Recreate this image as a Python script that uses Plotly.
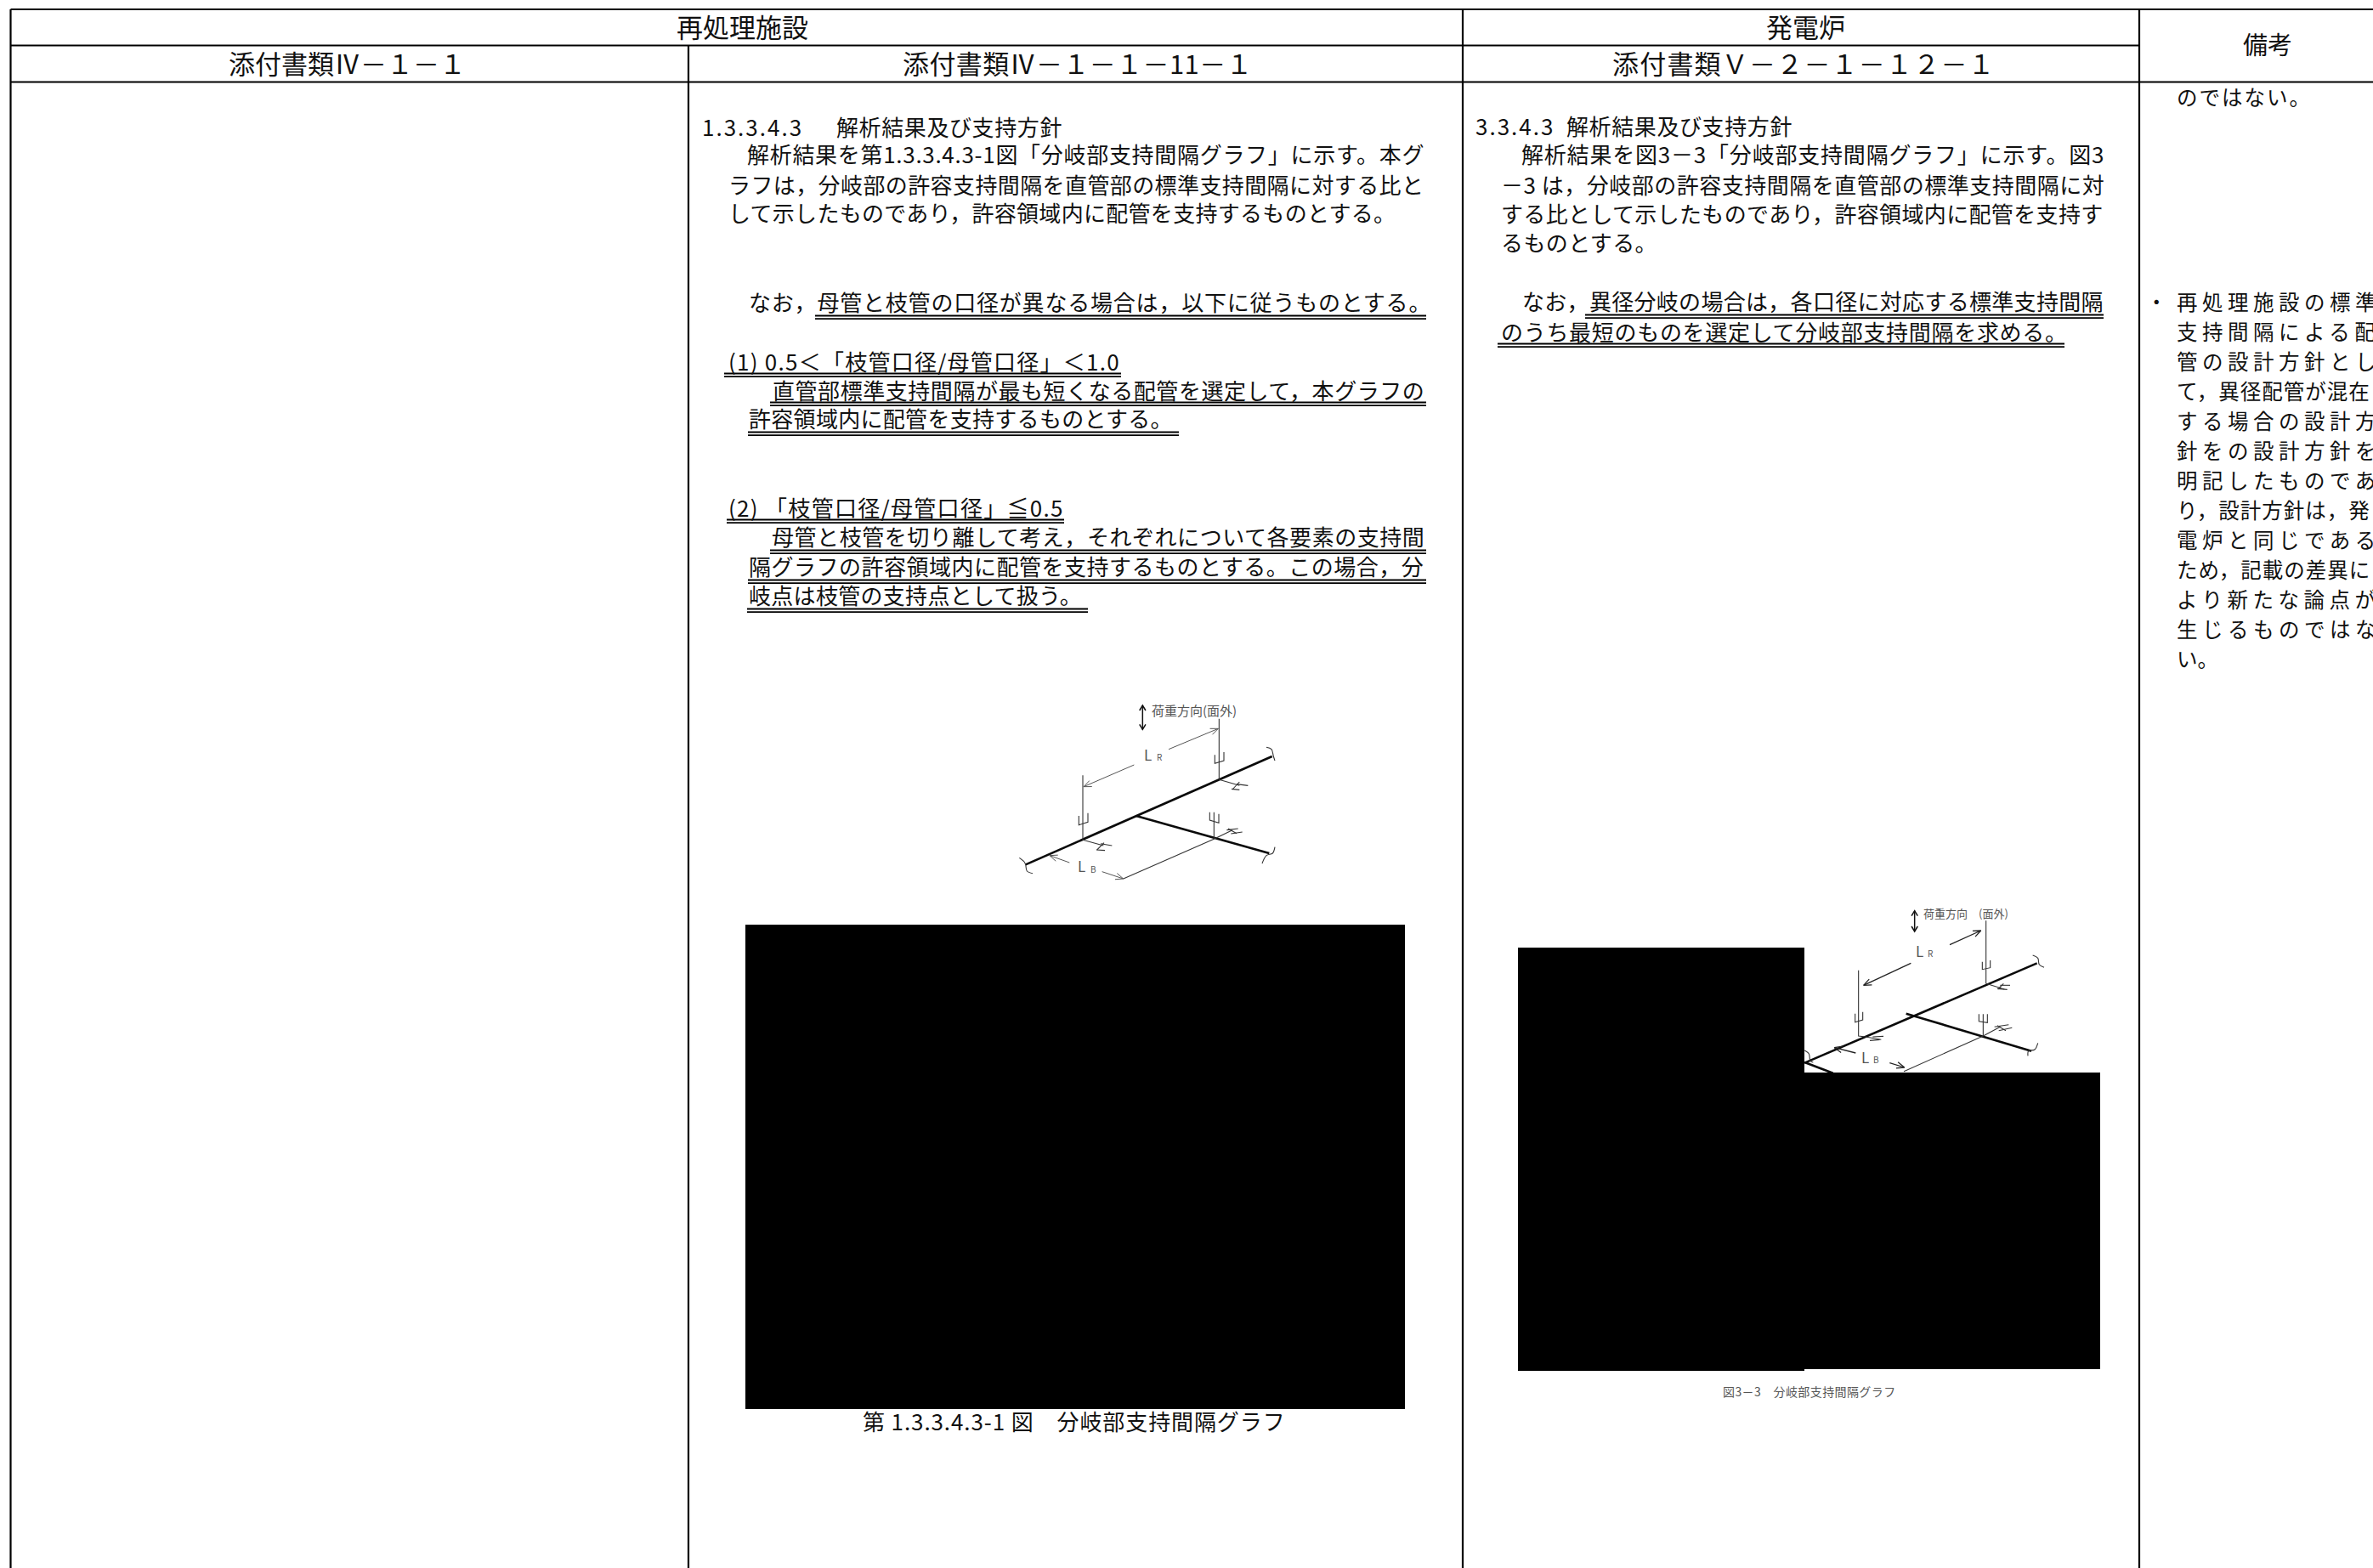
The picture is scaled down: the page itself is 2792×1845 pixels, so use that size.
import plotly.graph_objects as go

W, H = 2792, 1845
FONT = "Noto Sans CJK JP"
FC = "\uff0c"   # full-width comma
FM = "\uff0d"   # full-width minus
F1 = "\uff11"
F2 = "\uff12"
FV = "\uff36"
R4 = "\u2163"
IS = "\u3000"   # ideographic space
LT = "\uff1c"

# ---------- text content ----------
HEAD_TEXT = ["再処理施設", "発電炉",
             f"添付書類{R4}{FM}{F1}{FM}{F1}",
             f"添付書類{R4}{FM}{F1}{FM}{F1}{FM}11{FM}{F1}",
             f"添付書類{FV}{FM}{F2}{FM}{F1}{FM}{F1}{F2}{FM}{F1}", "備考"]
HEAD_X = [873, 2124, 408, 1268, 2122, 2668]
HEAD_Y = [30, 30, 73, 73, 73, 51]
HEAD_SIZE = [31, 31, 31, 31, 31, 29]
HEAD_SPACING = [0, 0, 0, 0.4, 1.2, 0]

COL2_TEXT = [
    "1.3.3.4.3", "解析結果及び支持方針",
    "解析結果を第1.3.3.4.3-1図「分岐部支持間隔グラフ」に示す。本グ",
    f"ラフは{FC}分岐部の許容支持間隔を直管部の標準支持間隔に対する比と",
    f"して示したものであり{FC}許容領域内に配管を支持するものとする。",
    f"なお{FC}母管と枝管の口径が異なる場合は{FC}以下に従うものとする。",
    f"(1) 0.5{LT}「枝管口径/母管口径」{LT}1.0",
    f"直管部標準支持間隔が最も短くなる配管を選定して{FC}本グラフの",
    "許容領域内に配管を支持するものとする。",
    "(2) 「枝管口径/母管口径」≦0.5",
    f"母管と枝管を切り離して考え{FC}それぞれについて各要素の支持間",
    f"隔グラフの許容領域内に配管を支持するものとする。この場合{FC}分",
    "岐点は枝管の支持点として扱う。",
]
COL2_X = [825, 983, 878, 856, 856, 880, 856, 908, 880, 856, 907, 880, 880]
COL2_Y = [148, 148, 180, 216, 249, 354, 424, 458, 491, 596, 630, 665, 699]
COL2_SPACING = [2, 0.6, 0.7, 0.4, 0.3, 0.8, 1.25, 0.55, 0.3, 1.3, 0.55, 0.5, 0.3]

COL3_TEXT = [
    "3.3.4.3", "解析結果及び支持方針",
    f"解析結果を図3{FM}3「分岐部支持間隔グラフ」に示す。図3",
    f"{FM}3 は{FC}分岐部の許容支持間隔を直管部の標準支持間隔に対",
    f"する比として示したものであり{FC}許容領域内に配管を支持す",
    "るものとする。",
    f"なお{FC}異径分岐の場合は{FC}各口径に対応する標準支持間隔",
    "のうち最短のものを選定して分岐部支持間隔を求める。",
]
COL3_X = [1735, 1842, 1789, 1765, 1765, 1765, 1790, 1765]
COL3_Y = [147, 147, 180, 216, 250, 284, 353, 389]
COL3_SPACING = [2, 0.6, 0.8, 0.5, 0.35, 0.4, 0.3, 0.7]

COL4_TEXT = [
    "のではない。", "再処理施設の標準", "支持間隔による配", "管の設計方針とし",
    f"て{FC}異径配管が混在", "する場合の設計方", "針をの設計方針を", "明記したものであ",
    f"り{FC}設計方針は{FC}発", "電炉と同じである", f"ため{FC}記載の差異に", "より新たな論点が",
    "生じるものではな", "い。",
]
COL4_Y = [113, 354, 389, 424, 459, 494, 529, 564, 599, 634, 669, 704, 739, 774]
COL4_SPACING = [2, 5.5, 5.5, 5.5, 1, 5.5, 5.5, 5.5, 1, 5.5, 1, 5.5, 5.5, 0]

CAPTION_TEXT = [f"第 1.3.3.4.3-1 図{IS}分岐部支持間隔グラフ", f"図3{FM}3{IS}分岐部支持間隔グラフ"]
CAPTION_X = [1264, 2129]
CAPTION_Y = [1671, 1637]
CAPTION_SIZE = [26, 14]
CAPTION_SPACING = [0.9, 0.4]

# ---------- table rules: (x0, y0, x1, y1) ----------
RULES = [
    (12.5, 11, W, 11), (12.5, 53.5, 2517, 53.5), (12.5, 96.5, W, 96.5),
    (12.5, 11, 12.5, H), (810, 53.5, 810, H), (1721, 11, 1721, H), (2517, 11, 2517, H),
]

# double underlines: (x0, x1, y)
UNDERLINES = [
    (959, 1678, 372), (852, 1319, 440), (906, 1678, 474), (880, 1387, 509),
    (855, 1252, 612), (906, 1678, 648), (880, 1678, 683), (879, 1280, 717),
    (1865, 2475, 371), (1762, 2429, 405),
]

# redacted blocks: (x0, y0, x1, y1)
BLOCKS = [(877, 1088, 1653, 1658), (1786, 1115, 2123, 1613), (2123, 1262, 2471, 1611)]

# ---------- pipe sketches, in zoomed local units (divide by 3, add origin) ----------
D1_ORIGIN = (1150, 780)
D1_THICK = [[(170, 712), (1040, 330)], [(560, 540), (1030, 672)]]
D1_THIN = [
    [(853, 197), (853, 412)], [(372, 397), (372, 625)], [(835, 527), (835, 622)],
    [(838, 325), (838, 355), (870, 345), (870, 315)],
    [(358, 540), (358, 572), (390, 562), (390, 530)],
    [(820, 527), (820, 555), (852, 565), (852, 533)],
    [(853, 412), (925, 433)], [(897, 445), (925, 448)], [(915, 428), (955, 433)], [(925, 420), (900, 447)],
    [(372, 625), (445, 645)], [(420, 660), (450, 662)], [(435, 638), (475, 645)], [(447, 635), (422, 660)],
    [(835, 622), (900, 590)], [(880, 590), (920, 585)], [(895, 603), (935, 597)], [(885, 585), (915, 602)],
    [(515, 762), (835, 622)],
]
D1_CURLS = [
    [(148, 688), (165, 702), (170, 712), (175, 735), (195, 743)],
    [(1020, 298), (1038, 305), (1045, 330), (1050, 345)],
    [(1050, 650), (1042, 672), (1020, 680), (1005, 708)],
]
D1_ARROWS = [
    [(675, 305), (850, 232)], [(553, 360), (375, 437)],
    [(325, 705), (255, 680)], [(440, 737), (515, 762)],
]
D1_DOUBLE = [(583, 150), (583, 235)]
D1_LABEL_TEXT = ["荷重方向(面外)", "L", "R", "L", "B"]
D1_LABEL_XY = [(612, 165), (585, 322), (630, 332), (352, 716), (397, 727)]
D1_LABEL_SIZE = [15, 17, 10, 17, 10]

D2_ORIGIN = (2120, 1040)
D2_THICK = [[(10, 632), (830, 280)], [(368, 458), (810, 590)], [(10, 630), (110, 668)]]
D2_THIN = [
    [(650, 130), (650, 352)], [(200, 305), (200, 537), (225, 540)], [(640, 460), (640, 537)],
    [(637, 275), (637, 302), (665, 296), (665, 270)],
    [(188, 458), (188, 488), (215, 480), (215, 452)],
    [(625, 460), (625, 485), (655, 490), (655, 460)],
    [(650, 352), (715, 372)], [(690, 370), (725, 373)], [(700, 358), (735, 358)], [(712, 352), (692, 372)],
    [(225, 540), (280, 550)], [(240, 553), (275, 550)], [(250, 540), (288, 538)],
    [(640, 537), (700, 505)], [(680, 505), (730, 497)], [(695, 518), (742, 508)], [(690, 500), (720, 518)],
    [(360, 662), (640, 537)],
]
D2_CURLS = [
    [(815, 252), (833, 262), (838, 285), (855, 295)],
    [(833, 562), (822, 585), (800, 590), (798, 607)],
    [(10, 588), (25, 600), (30, 625), (40, 630)],
]
D2_ARROWS = [
    [(522, 215), (632, 165)], [(385, 280), (218, 358)],
    [(190, 597), (115, 578)], [(310, 632), (362, 648)],
]
D2_DOUBLE = [(398, 95), (398, 168)]
D2_LABEL_TEXT = [f"荷重方向{IS}(面外)", "L", "R", "L", "B"]
D2_LABEL_XY = [(425, 102), (400, 234), (440, 244), (207, 611), (248, 619)]
D2_LABEL_SIZE = [13, 17, 10, 17, 10]

# ---------- helpers ----------
fig = go.Figure()


def segs(polys, width, color, shape="linear"):
    xs, ys = [], []
    for poly in polys:
        xs += [p[0] for p in poly] + [None]
        ys += [p[1] for p in poly] + [None]
    fig.add_trace(go.Scatter(x=xs, y=ys, mode="lines", hoverinfo="skip", showlegend=False,
                             line=dict(color=color, width=width, shape=shape,
                                       **({"smoothing": 1.0} if shape == "spline" else {}))))


def label(text, x, y, size, anchor="left", spacing=0, color="#111111"):
    t = f'<span style="letter-spacing:{spacing}px">{text}</span>' if spacing else text
    fig.add_annotation(x=x, y=y, text=t, showarrow=False, xanchor=anchor, yanchor="middle",
                       xref="x", yref="y", align=anchor, borderpad=0,
                       font=dict(family=FONT, size=size, color=color))


def to_page(poly, origin):
    return [(origin[0] + p[0] / 3, origin[1] + p[1] / 3) for p in poly]


def barbs(tail, tip, length=9.0, spread=0.42):
    dx, dy = tail[0] - tip[0], tail[1] - tip[1]
    n = (dx * dx + dy * dy) ** 0.5
    ux, uy = dx / n, dy / n
    a = (tip[0] + length * (ux - spread * uy), tip[1] + length * (uy + spread * ux))
    b = (tip[0] + length * (ux + spread * uy), tip[1] + length * (uy - spread * ux))
    return [a, tip, b]


def sketch(origin, thick, thin, curls, arrows, double, texts, xy, sizes, arrow_color, arrow_w):
    segs([to_page(p, origin) for p in thick], 2.6, "#0a0a0a")
    segs([to_page(p, origin) for p in thin], 1.1, "#333333")
    for c in curls:
        segs([to_page(c, origin)], 1.1, "#333333", shape="spline")
    ar = []
    for a in arrows:
        pa = to_page(a, origin)
        ar += [pa, barbs(pa[0], pa[1])]
    segs(ar, arrow_w, arrow_color)
    pd = to_page(double, origin)
    segs([pd, barbs(pd[1], pd[0], 6, 0.6), barbs(pd[0], pd[1], 6, 0.6)], 1.5, "#111111")
    for t, p, s in zip(texts, xy, sizes):
        q = to_page([p], origin)[0]
        label(t, q[0], q[1], s, color="#555555")


# ---------- build ----------
segs([[(r[0], r[1]), (r[2], r[3])] for r in RULES], 2.2, "#000000")

sketch(D1_ORIGIN, D1_THICK, D1_THIN, D1_CURLS, D1_ARROWS, D1_DOUBLE,
       D1_LABEL_TEXT, D1_LABEL_XY, D1_LABEL_SIZE, "#555555", 1.0)
sketch(D2_ORIGIN, D2_THICK, D2_THIN, D2_CURLS, D2_ARROWS, D2_DOUBLE,
       D2_LABEL_TEXT, D2_LABEL_XY, D2_LABEL_SIZE, "#222222", 1.3)

for b in BLOCKS:
    fig.add_trace(go.Scatter(x=[b[0], b[2], b[2], b[0], b[0]], y=[b[1], b[1], b[3], b[3], b[1]],
                             mode="lines", fill="toself", fillcolor="#000000",
                             line=dict(color="#000000", width=0), hoverinfo="skip", showlegend=False))

under = []
for x0, x1, y in UNDERLINES:
    under += [[(x0, y - 0.5), (x1, y - 0.5)], [(x0, y + 3.2), (x1, y + 3.2)]]
segs(under, 1.8, "#000000")

for t, x, y, s, sp in zip(HEAD_TEXT, HEAD_X, HEAD_Y, HEAD_SIZE, HEAD_SPACING):
    label(t, x, y, s, anchor="center", spacing=sp)
for t, x, y, sp in zip(COL2_TEXT, COL2_X, COL2_Y, COL2_SPACING):
    label(t, x, y, 26, spacing=sp)
for t, x, y, sp in zip(COL3_TEXT, COL3_X, COL3_Y, COL3_SPACING):
    label(t, x, y, 26, spacing=sp)
for t, y, sp in zip(COL4_TEXT, COL4_Y, COL4_SPACING):
    label(t, 2560, y, 24.5, spacing=sp)
label("・", 2524, 354, 24.5)
for t, x, y, s, sp in zip(CAPTION_TEXT, CAPTION_X, CAPTION_Y, CAPTION_SIZE, CAPTION_SPACING):
    label(t, x, y, s, anchor="center", spacing=sp, color="#111111" if s > 20 else "#555555")

fig.update_xaxes(range=[0, W], visible=False, fixedrange=True)
fig.update_yaxes(range=[H, 0], visible=False, fixedrange=True)
fig.update_layout(width=W, height=H, margin=dict(l=0, r=0, t=0, b=0), showlegend=False,
                  paper_bgcolor="#ffffff", plot_bgcolor="#ffffff", font=dict(family=FONT))
fig.write_html("out.html", config={"displayModeBar": False},
               post_script="document.body.style.margin='0';document.documentElement.style.overflow='hidden';")
